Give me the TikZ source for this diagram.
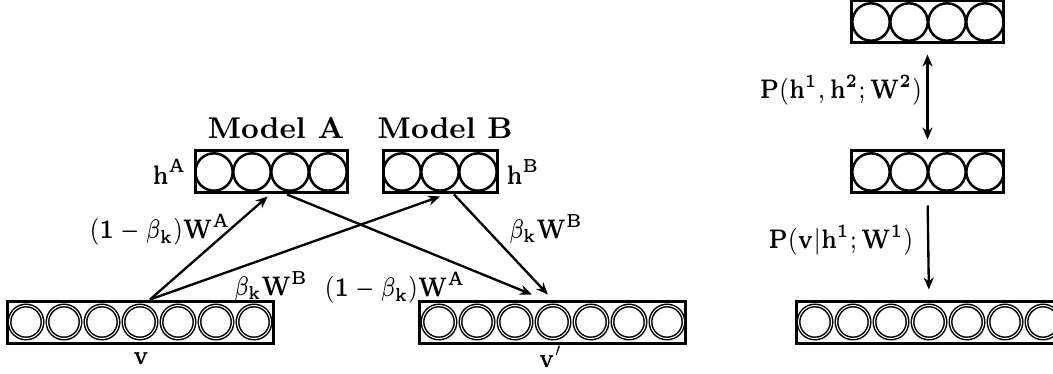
\RequirePackage{fix-cm}
\documentclass[tikz,border=0pt]{standalone}
\usetikzlibrary{arrows.meta}
\newcommand{\mylab}[1]{\scalebox{1}[1.3]{$\mathbf{#1}$}}
\begin{document}
\begin{tikzpicture}[x=0.3pt,y=-0.3pt,
  >={Stealth[length=3.6pt,width=3pt]},
  layerbox/.style={draw, line width=0.9pt, inner sep=0pt, minimum height=12.6pt},
  unit/.style={circle, draw, line width=0.75pt, inner sep=0pt, minimum size=11.2pt},
  dunit/.style={circle, draw, line width=0.45pt, double, double distance=0.3pt, inner sep=0pt, minimum size=9.9pt},
  conn/.style={->, line width=0.7pt},
  lbl/.style={inner sep=0pt, font=\fontsize{6.2}{7.5}\selectfont},
  title/.style={inner sep=0pt, font=\fontsize{9}{10}\selectfont\bfseries}]
\useasboundingbox (0,0) rectangle (1053,374);
% layer boxes
\node[layerbox, minimum width=79.8pt] (v) at (140,322) {};
\node[layerbox, minimum width=79.8pt] (vp) at (552.5,322) {};
\node[layerbox, minimum width=45.6pt] (hA) at (271,172) {};
\node[layerbox, minimum width=34.2pt] (hB) at (440,172) {};
\node[layerbox, minimum width=45.6pt] (rtop) at (927.5,22) {};
\node[layerbox, minimum width=45.6pt] (rmid) at (927.5,172) {};
\node[layerbox, minimum width=79.8pt] (rbot) at (929,322) {};
% units
\foreach \i in {0,...,6} {
  \node[dunit] (v-\i) at (26+38*\i,322) {};
  \node[dunit] (vp-\i) at (439+38*\i,322) {};
  \node[dunit] (rbot-\i) at (815+38*\i,322) {};
}
\foreach \i in {0,...,3} {
  \node[unit] (hA-\i) at (214+38*\i,172) {};
  \node[unit] (rtop-\i) at (871+38*\i,22) {};
  \node[unit] (rmid-\i) at (871+38*\i,172) {};
}
\foreach \i in {0,...,2} {
  \node[unit] (hB-\i) at (402+38*\i,172) {};
}
% connectors
\draw[conn] ([xshift=3pt]v.north) -- ([xshift=-1pt,yshift=-0.6pt]hA.south);
\draw[conn] ([xshift=3pt]v.north) -- ([yshift=-0.6pt]hB.south);
\draw[conn] ([xshift=4.8pt]hA.south) -- ([xshift=-6.2pt,yshift=1.5pt]vp.north);
\draw[conn] ([xshift=4.2pt]hB.south) -- ([xshift=-1.4pt,yshift=1.5pt]vp.north);
\draw[<->, line width=0.7pt, shorten <=3pt, shorten >=3pt] (rtop.south) -- (rmid.north);
\draw[conn, shorten <=3.3pt, shorten >=3pt] (rmid.south) -- (rbot.north);
% labels
\node[title] (tA) at (276,128) {Model A};
\node[title] (tB) at (445,128) {Model B};
\node[lbl, anchor=east] (lhA) at (187,172) {\mylab{h^A}};
\node[lbl, anchor=west] (lhB) at (506,172) {\mylab{h^B}};
\node[lbl] (l1) at (160,230) {\mylab{(1-\beta_k)W^A}};
\node[lbl] (l2) at (271,286) {\mylab{\beta_kW^B}};
\node[lbl] (l3) at (395,288) {\mylab{(1-\beta_k)W^A}};
\node[lbl] (l4) at (546,229) {\mylab{\beta_kW^B}};
\node[lbl] (lv) at (141,359) {\mylab{v}};
\node[lbl] (lvp) at (551,357) {\mylab{v'}};
\node[lbl] (lp2) at (841,90) {\mylab{P(h^1,h^2;W^2)}};
\node[lbl] (lp1) at (841,240) {\mylab{P(v|h^1;W^1)}};
\end{tikzpicture}
\end{document}
